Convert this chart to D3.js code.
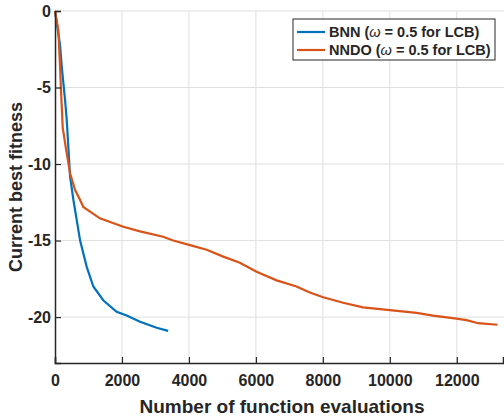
<!DOCTYPE html>
<html>
<head>
<meta charset="utf-8">
<script src="https://cdn.jsdelivr.net/npm/d3@7"></script>
<style>
  body { margin: 0; background: #fff; }
  text { font-family: "Liberation Sans", Arial, sans-serif; font-weight: bold; fill: #262626; }
</style>
</head>
<body>
<div id="chart-area"></div>
<script>
// SVG Size
let width = 504,
	height = 420;

// series values
let bnnX = [0, 100, 150, 200, 300, 350, 450, 550, 750, 945, 1145, 1440, 1840, 2140, 2540, 3035, 3380];
let bnnY = [0, -1.5, -2.2, -3.6, -5.8, -7.1, -10.8, -12.35, -15.0, -16.7, -18.0, -18.9, -19.65, -19.9, -20.3, -20.7, -20.9];

let nndoX = [0, 100, 150, 180, 230, 320, 450, 600, 750, 845, 1340, 2040, 2540, 3230, 3530, 4030, 4530, 5025, 5520, 6020, 6620, 7215, 7610, 8010, 8605, 9200, 10000, 10800, 11290, 11990, 12290, 12640, 13215];
let nndoY = [0, -1.25, -3.6, -5.2, -7.6, -8.9, -10.6, -11.7, -12.35, -12.8, -13.55, -14.1, -14.4, -14.75, -15.0, -15.3, -15.6, -16.05, -16.45, -17.04, -17.6, -18.0, -18.4, -18.7, -19.06, -19.37, -19.54, -19.72, -19.9, -20.1, -20.2, -20.4, -20.5];

let xTicks = [0, 2000, 4000, 6000, 8000, 10000, 12000];
let yTicks = [0, -5, -10, -15, -20];

let seriesNames = ["BNN", "NNDO"];
let seriesColors = ["#0072BD", "#D95319"];

let margin = {left: 55, top: 11, right: 1, bottom: 57};

drawChart();

function drawChart() {
	let svg = d3.select("#chart-area").append("svg").attr("width", width).attr("height", height);

	let x = d3.scaleLinear().domain([0, 13380]).range([margin.left, width - margin.right]);
	let y = d3.scaleLinear().domain([-23, 0]).range([height - margin.bottom, margin.top]);

	// grid
	svg.append("g").selectAll("line.gx")
	.data(xTicks.slice(1))
	.enter().append("line")
	.attr("x1", d => x(d)).attr("x2", d => x(d))
	.attr("y1", y(-23)).attr("y2", y(0))
	.attr("stroke", "#dfdfdf").attr("stroke-width", 1);

	svg.append("g").selectAll("line.gy")
	.data(yTicks)
	.enter().append("line")
	.attr("x1", x(0)).attr("x2", width)
	.attr("y1", d => y(d)).attr("y2", d => y(d))
	.attr("stroke", "#dfdfdf").attr("stroke-width", 1);

	// lines
	let line = d3.line().x(d => x(d[0])).y(d => y(d[1]));
	let series = [d3.zip(bnnX, bnnY), d3.zip(nndoX, nndoY)];

	svg.append("g").selectAll("path")
	.data(series)
	.enter().append("path")
	.attr("d", line)
	.attr("fill", "none")
	.attr("stroke", (d, i) => seriesColors[i])
	.attr("stroke-width", 2.2);

	// Axis (MATLAB style, ticks inward)
	let xAxis = d3.axisBottom(x).tickValues(xTicks).tickSize(-6).tickPadding(12).tickFormat(d3.format("d"));
	let yAxis = d3.axisLeft(y).tickValues(yTicks).tickSize(-6).tickPadding(4).tickFormat(d => d === 0 ? "0" : "-" + Math.abs(d));

	let gx = svg.append("g")
	.attr("class", "axis x-axis")
	.attr("transform", "translate(0," + y(-23) + ")")
	.call(xAxis);

	let gy = svg.append("g")
	.attr("class", "axis y-axis")
	.attr("transform", "translate(" + x(0) + ",0)")
	.call(yAxis);

	[gx, gy].forEach(g => {
		g.select(".domain").attr("stroke", "#262626").attr("stroke-width", 1.5);
		g.selectAll(".tick line").attr("stroke", "#262626").attr("stroke-width", 1.2);
		g.selectAll(".tick text").style("font-size", "16px").attr("fill", "#262626");
	});

	svg.append("text")
	.attr("x", 282)
	.attr("y", 413)
	.attr("text-anchor", "middle")
	.style("font-size", "19px")
	.text("Number of function evaluations");

	svg.append("text")
	.attr("x", -187)
	.attr("y", 22)
	.attr("text-anchor", "middle")
	.attr("transform", "rotate(-90)")
	.style("font-size", "18px")
	.text("Current best fitness");

	// legend
	let lg = svg.append("g").attr("transform", "translate(293,19)");
	lg.append("rect")
	.attr("width", 202).attr("height", 41)
	.attr("fill", "#fff").attr("stroke", "#262626").attr("stroke-width", 1);

	let rows = lg.selectAll("g.row")
	.data(seriesNames)
	.enter().append("g")
	.attr("transform", (d, i) => "translate(0," + (13 + i * 18) + ")");

	rows.append("line")
	.attr("x1", 4).attr("x2", 32)
	.attr("stroke", (d, i) => seriesColors[i])
	.attr("stroke-width", 2.2);

	let t = rows.append("text")
	.attr("x", 36).attr("y", 5)
	.style("font-size", "14.5px");
	t.append("tspan").text(d => d + " (");
	t.append("tspan").style("font-style", "italic").style("font-weight", "normal").text("\u03C9");
	t.append("tspan").text(" = 0.5 for LCB)");
}
</script>
</body>
</html>
